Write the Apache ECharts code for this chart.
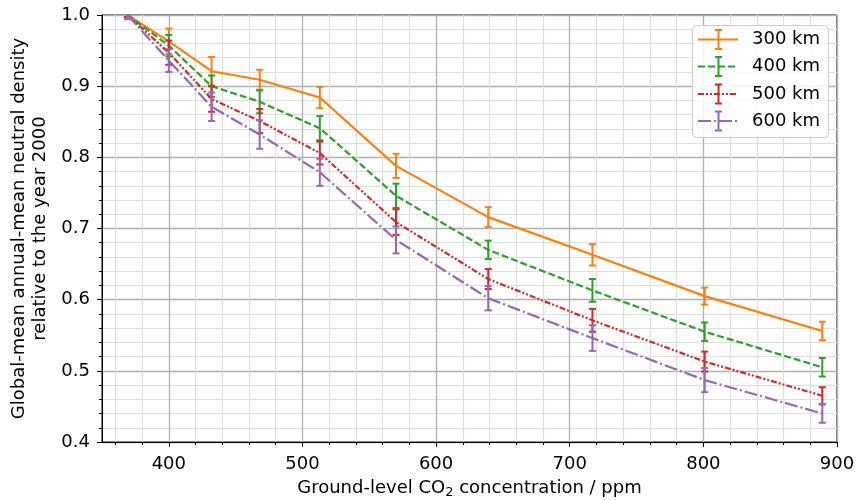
<!DOCTYPE html>
<html>
<head>
<meta charset="utf-8">
<script src="https://cdn.jsdelivr.net/npm/echarts@6/dist/echarts.min.js"></script>
<style>html,body{margin:0;padding:0;background:#fff;}#c{width:860px;height:500px;}</style>
</head>
<body>
<div id="c"></div>
<script>
var co2 = [369, 400, 432, 468, 513, 570, 639, 717, 801, 889];
var d300 = [1.0, 0.963, 0.921, 0.909, 0.884, 0.788, 0.716, 0.663, 0.605, 0.556];
var e300 = [0.003, 0.018, 0.02, 0.014, 0.015, 0.017, 0.014, 0.015, 0.012, 0.013];
var d400 = [1.0, 0.957, 0.900, 0.878, 0.841, 0.746, 0.670, 0.613, 0.555, 0.505];
var e400 = [0.003, 0.015, 0.015, 0.016, 0.017, 0.017, 0.013, 0.016, 0.013, 0.013];
var d500 = [1.0, 0.947, 0.882, 0.851, 0.806, 0.709, 0.629, 0.571, 0.513, 0.465];
var e500 = [0.003, 0.017, 0.018, 0.017, 0.016, 0.018, 0.014, 0.016, 0.014, 0.012];
var d600 = [1.0, 0.936, 0.871, 0.832, 0.779, 0.684, 0.602, 0.546, 0.487, 0.440];
var e600 = [0.006, 0.016, 0.02, 0.02, 0.019, 0.019, 0.017, 0.018, 0.017, 0.013];
var names = ['300 km', '400 km', '500 km', '600 km'];
var xMajorTicks = [400, 500, 600, 700, 800, 900];
var xMinorTicks = [360, 380, 420, 440, 460, 480, 520, 540, 560, 580, 620, 640, 660, 680, 720, 740, 760, 780, 820, 840, 860, 880];

var colors = ['#ff7f0e', '#2ca02c', '#d62728', '#9467bd'];
var dashes = ['solid', [7, 3], [6, 2, 2, 2, 2, 2], [13, 3, 2, 3]];
var vals = [d300, d400, d500, d600];
var errs = [e300, e400, e500, e600];

var FONT = 'DejaVu Sans';
var FS = 18;
function errRender(color) {
  return function (params, api) {
    var x = api.value(0), lo = api.value(1), hi = api.value(2);
    var p1 = api.coord([x, hi]), p2 = api.coord([x, lo]);
    var w = 3.5;
    var st = {stroke: color, lineWidth: 2};
    return {type: 'group', children: [
      {type: 'line', shape: {x1: p1[0], y1: p1[1], x2: p2[0], y2: p2[1]}, style: st},
      {type: 'line', shape: {x1: p1[0] - w, y1: p1[1], x2: p1[0] + w, y2: p1[1]}, style: st},
      {type: 'line', shape: {x1: p2[0] - w, y1: p2[1], x2: p2[0] + w, y2: p2[1]}, style: st}
    ]};
  };
}

var series = [];
for (var k = 0; k < 4; k++) {
  series.push({
    type: 'line', name: names[k], showSymbol: false, symbol: 'none', xAxisIndex: 1,
    data: co2.map(function (x, i) { return [x, vals[k][i]]; }),
    lineStyle: {color: colors[k], width: 2.2, type: dashes[k]},
    itemStyle: {color: colors[k]}, animation: false, z: 3 + k
  });
  series.push({
    type: 'custom', name: names[k] + ' err', renderItem: errRender(colors[k]), clip: true, xAxisIndex: 1,
    data: co2.map(function (x, i) { return [x, vals[k][i] - errs[k][i], vals[k][i] + errs[k][i]]; }),
    encode: {x: 0, y: [1, 2]}, animation: false, z: 3 + k
  });
}

// legend drawn as graphic elements
var lg = [];
lg.push({type: 'rect', shape: {x: 692.5, y: 25.5, width: 136, height: 112, r: 4},
  style: {fill: 'rgba(255,255,255,0.85)', stroke: '#cccccc', lineWidth: 1}, z: 100});
var rowY = [39.5, 66.5, 94, 121];
for (var j = 0; j < 4; j++) {
  var y = rowY[j];
  var ls = {stroke: colors[j], lineWidth: 2.2};
  if (dashes[j] !== 'solid') ls.lineDash = dashes[j];
  lg.push({type: 'line', shape: {x1: 698, y1: y, x2: 738, y2: y}, style: ls, z: 101});
  var es = {stroke: colors[j], lineWidth: 2};
  lg.push({type: 'line', shape: {x1: 718.5, y1: y - 9.5, x2: 718.5, y2: y + 9.5}, style: es, z: 101});
  lg.push({type: 'line', shape: {x1: 715, y1: y - 9.5, x2: 722, y2: y - 9.5}, style: es, z: 101});
  lg.push({type: 'line', shape: {x1: 715, y1: y + 9.5, x2: 722, y2: y + 9.5}, style: es, z: 101});
  lg.push({type: 'text', x: 752, y: y, style: {text: names[j], fontSize: FS, fontFamily: FONT,
    fill: '#000', verticalAlign: 'middle', align: 'left'}, z: 101});
}

var chart = echarts.init(document.getElementById('c'), null, {renderer: 'canvas'});
chart.setOption({
  animation: false,
  backgroundColor: '#fff',
  grid: {left: 102, right: 23, top: 15, bottom: 58, containLabel: false, outerBoundsMode: 'none',
    show: true, borderColor: '#000', borderWidth: 1, backgroundColor: 'transparent'},
  xAxis: [{
    type: 'value', min: 350, max: 900, position: 'bottom',
    axisLine: {show: false},
    axisTick: {show: true, length: 3, customValues: xMinorTicks, lineStyle: {color: '#000', width: 1}},
    axisLabel: {show: false, customValues: xMinorTicks},
    splitLine: {show: true, lineStyle: {color: '#dedede', width: 1.2}}
  }, {
    type: 'value', min: 350, max: 900, position: 'bottom',
    name: 'Ground-level CO{sub|2} concentration / ppm', nameLocation: 'middle', nameGap: 35,
    nameTextStyle: {fontSize: FS, fontFamily: FONT, color: '#000',
      rich: {sub: {fontSize: 13, fontFamily: FONT, color: '#000', padding: [9, 0, 0, 0]}}},
    axisLine: {show: true, lineStyle: {color: '#000', width: 1}},
    axisTick: {show: true, length: 5, customValues: xMajorTicks, lineStyle: {color: '#000', width: 1}},
    axisLabel: {customValues: xMajorTicks, fontSize: FS, fontFamily: FONT, color: '#000', margin: 13},
    splitLine: {show: true, lineStyle: {color: '#b0b0b0', width: 1.3}}
  }],
  yAxis: {
    type: 'value', min: 0.4, max: 1.0, interval: 0.1,
    name: 'Global-mean annual-mean neutral density\nrelative to the year 2000', nameLocation: 'middle', nameGap: 43,
    nameTextStyle: {fontSize: FS, fontFamily: FONT, color: '#000', lineHeight: 21, align: 'center'},
    axisLine: {show: true, lineStyle: {color: '#000', width: 1}},
    axisTick: {show: true, length: 5, lineStyle: {color: '#000', width: 1}},
    minorTick: {show: true, splitNumber: 5, length: 3, lineStyle: {color: '#000', width: 1}},
    splitLine: {show: true, lineStyle: {color: '#b0b0b0', width: 1.3}},
    minorSplitLine: {show: true, lineStyle: {color: '#dedede', width: 1.2}},
    axisLabel: {fontSize: FS, fontFamily: FONT, color: '#000', margin: 12,
      formatter: function (v) { return v.toFixed(1); }}
  },
  series: series,
  graphic: lg
});
</script>
</body>
</html>
